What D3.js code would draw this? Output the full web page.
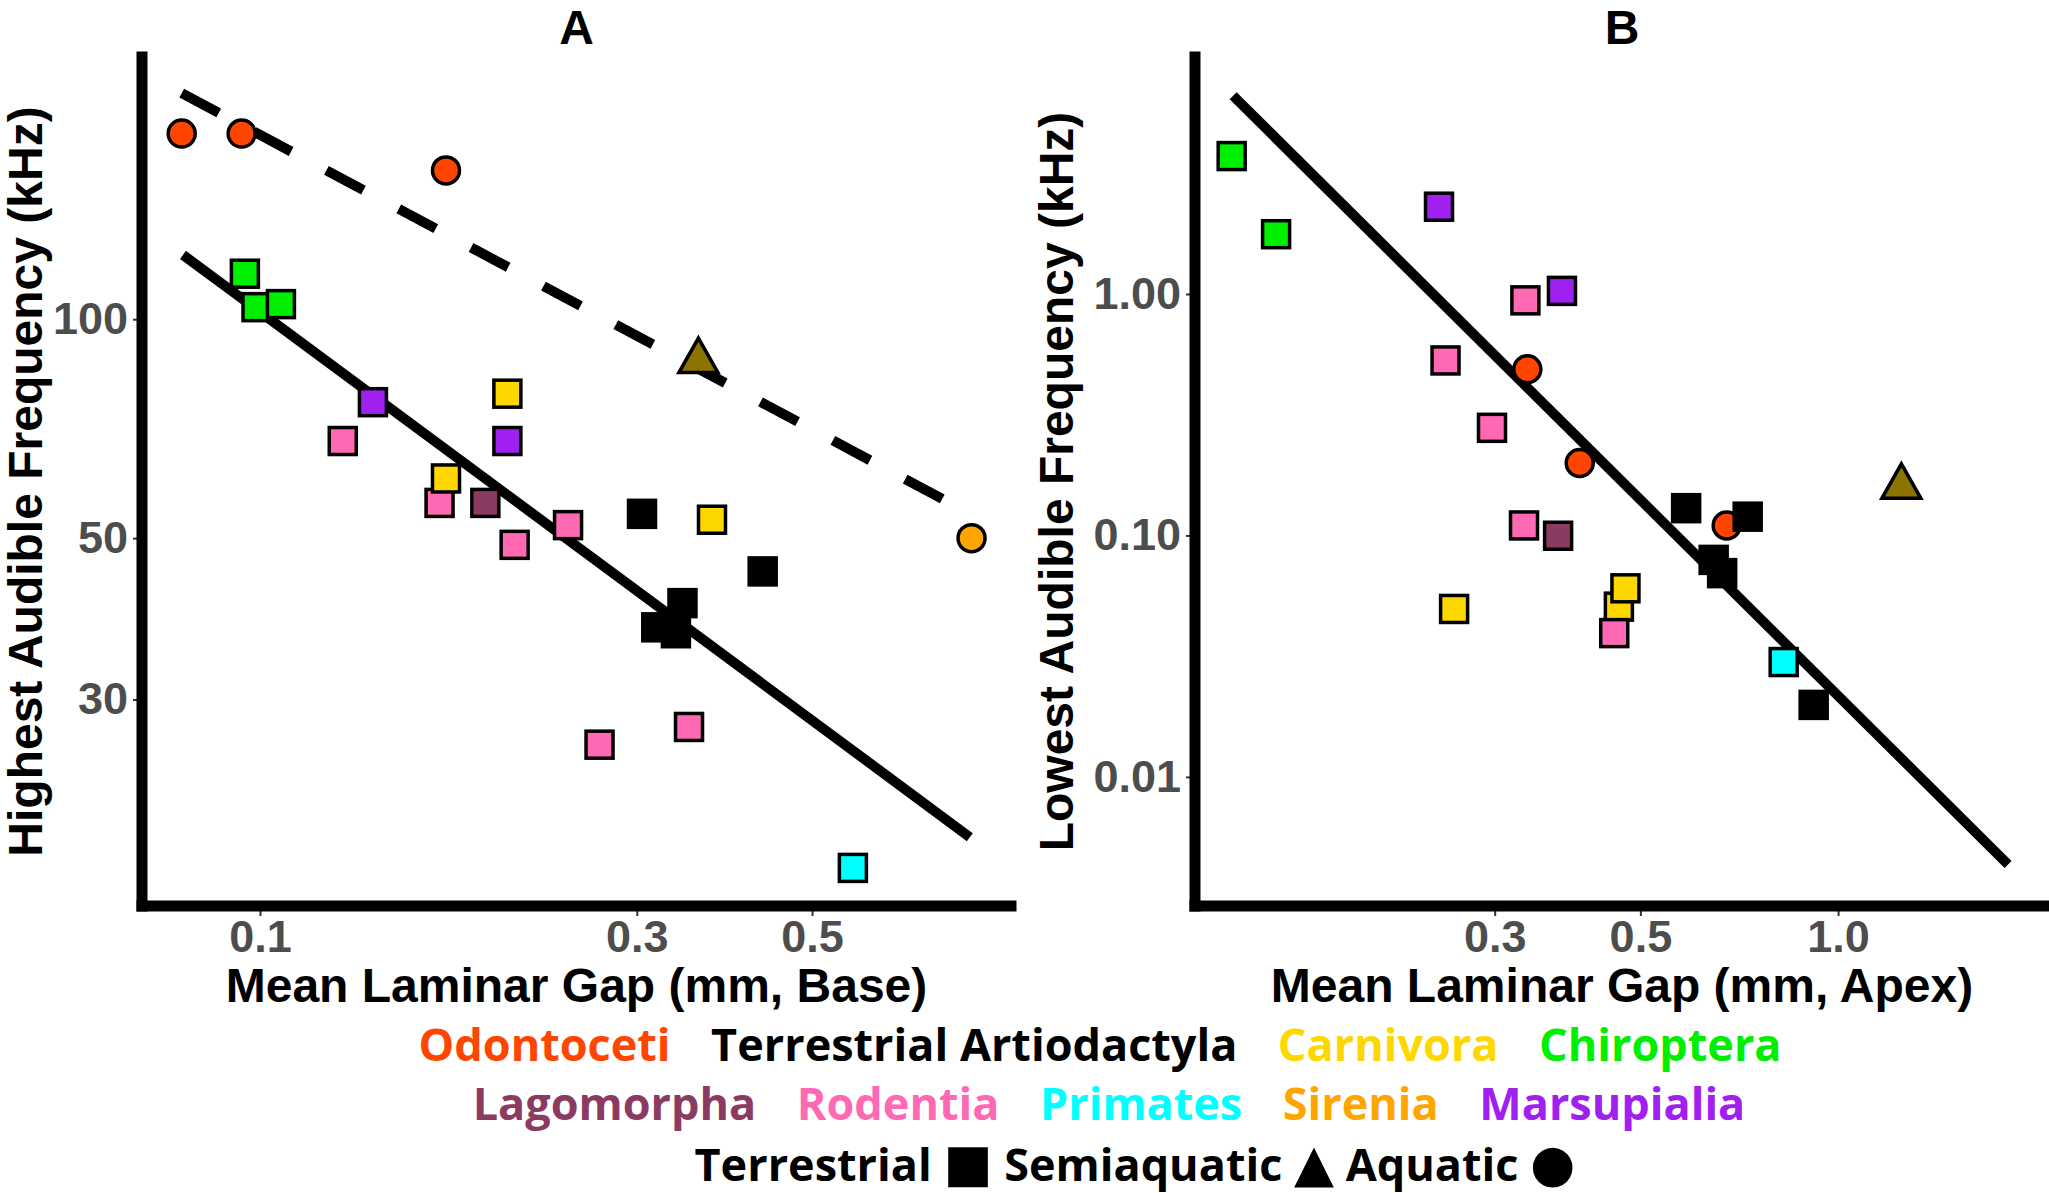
<!DOCTYPE html>
<meta charset="utf-8"/>
<style>
  body { margin: 0; background: #fff; }
</style>
<svg width="2049" height="1193"></svg>
<script src="https://d3js.org/d3.v7.min.js"></script>
<script>

// orders and their colours
var orders = ['Odontoceti', 'Terrestrial Artiodactyla', 'Carnivora', 'Chiroptera',
              'Lagomorpha', 'Rodentia', 'Primates', 'Sirenia', 'Marsupialia', 'Semiaquatic']
var orderColours = ['#FF4500', '#000000', '#FFD700', '#00EE00',
                    '#8B3A62', '#FF69B4', '#00FFFF', '#FFA500', '#A020F0', '#8B7500']
var legendRows = [
    ['Odontoceti', 'Terrestrial Artiodactyla', 'Carnivora', 'Chiroptera'],
    ['Lagomorpha', 'Rodentia', 'Primates', 'Sirenia', 'Marsupialia']
]
var habitatWords   = ['Terrestrial ', ' Semiaquatic ', ' Aquatic ']
var habitatSymbols = ['\u25A0', '\u25B2', '\u25CF']

// panel A : base gap (mm) vs highest audible frequency (kHz)
var orderA   = ['Odontoceti','Odontoceti','Odontoceti','Sirenia','Semiaquatic',
                'Chiroptera','Chiroptera','Chiroptera',
                'Marsupialia','Marsupialia',
                'Rodentia','Rodentia','Rodentia','Rodentia','Rodentia','Rodentia',
                'Carnivora','Carnivora','Carnivora','Lagomorpha',
                'Terrestrial Artiodactyla','Terrestrial Artiodactyla','Terrestrial Artiodactyla',
                'Terrestrial Artiodactyla','Terrestrial Artiodactyla','Primates']
var habitatA = ['aquatic','aquatic','aquatic','aquatic','semi',
                'terr','terr','terr','terr','terr','terr','terr','terr','terr','terr','terr',
                'terr','terr','terr','terr','terr','terr','terr','terr','terr','terr']
var gapA  = [0.0796, 0.0948, 0.172, 0.796, 0.359,
             0.0957, 0.099, 0.1063,
             0.139, 0.2057,
             0.1273, 0.1688, 0.2101, 0.2455, 0.2691, 0.3493,
             0.2057, 0.172, 0.3735, 0.1929,
             0.3046, 0.433, 0.3427, 0.3175, 0.3362, 0.5632]
var freqA = [180, 180, 160.2, 50.0, 87.6,
             115.5, 103.9, 104.9,
             76.9, 68.0,
             68.0, 55.9, 48.95, 52.1, 26.0, 27.5,
             79.0, 60.4, 53.0, 55.9,
             54.0, 45.0, 40.7, 37.7, 37.0, 17.6]
// fitted lines, end points [gap, freq]
var fitTerrA  = [[0.0799, 122.6], [0.792, 19.4]]
var fitAquaA  = [[0.0796, 204.6], [0.796, 53.9]]

// panel B : apex gap (mm) vs lowest audible frequency (kHz)
var orderB   = ['Chiroptera','Chiroptera','Marsupialia','Marsupialia',
                'Rodentia','Rodentia','Rodentia','Rodentia','Lagomorpha',
                'Odontoceti','Odontoceti','Odontoceti','Semiaquatic',
                'Terrestrial Artiodactyla','Terrestrial Artiodactyla','Terrestrial Artiodactyla',
                'Terrestrial Artiodactyla','Terrestrial Artiodactyla',
                'Carnivora','Carnivora','Carnivora','Rodentia','Primates']
var habitatB = ['terr','terr','terr','terr','terr','terr','terr','terr','terr',
                'aquatic','aquatic','aquatic','semi',
                'terr','terr','terr','terr','terr','terr','terr','terr','terr','terr']
var gapB  = [0.1193, 0.1394, 0.2468, 0.3798,
             0.3341, 0.2525, 0.2972, 0.3325, 0.3747,
             0.3364, 0.4042, 0.6767, 1.2485,
             0.587, 0.7284, 0.6465, 0.666, 0.918,
             0.2602, 0.4637, 0.4745, 0.4562, 0.8264]
var freqB = [3.724, 1.768, 2.298, 1.030,
             0.941, 0.5305, 0.279, 0.110, 0.0997,
             0.4878, 0.1995, 0.110, 0.159,
             0.1297, 0.1196, 0.0792, 0.0698, 0.01987,
             0.0496, 0.0507, 0.0604, 0.0394, 0.0299]
var fitB = [[0.1199, 6.62], [1.815, 0.00434]]

var ticksAx = [0.1, 0.3, 0.5],  ticksAxLab = ['0.1', '0.3', '0.5']
var ticksAy = [30, 50, 100],    ticksAyLab = ['30', '50', '100']
var ticksBx = [0.3, 0.5, 1.0],  ticksBxLab = ['0.3', '0.5', '1.0']
var ticksBy = [0.01, 0.1, 1.0], ticksByLab = ['0.01', '0.10', '1.00']

var colour = d3.scaleOrdinal().domain(orders).range(orderColours)

var svg = d3.select('svg')
var top_ = 57, bottom = 906
var arial = '"Liberation Sans", Arial, sans-serif'

function panel(opt)
{
    var g = svg.append('g')
    var x = d3.scaleLog().domain(opt.xdom).range([opt.left, opt.right])
    var y = d3.scaleLog().domain(opt.ydom).range([bottom, top_])

    // ticks and labels
    var xa = g.append('g').attr('transform', 'translate(0,' + bottom + ')')
        .call(d3.axisBottom(x).tickValues(opt.xt).tickSize(10).tickPadding(10)
              .tickFormat(function(d, i) { return opt.xtl[i] }))
    var ya = g.append('g').attr('transform', 'translate(' + opt.left + ',0)')
        .call(d3.axisLeft(y).tickValues(opt.yt).tickSize(9).tickPadding(5)
              .tickFormat(function(d, i) { return opt.ytl[i] }))
    g.selectAll('.domain').remove()
    g.selectAll('.tick line').attr('stroke', '#333').attr('stroke-width', 2)
    g.selectAll('.tick text')
        .style('font-family', arial)
        .style('font-weight', 'bold')
        .style('font-size', '45px')
        .attr('fill', '#4D4D4D')
    xa.selectAll('.tick text').attr('dy', '0.72em').attr('y', 14)

    // axis lines
    g.append('line').attr('x1', opt.left).attr('x2', opt.left)
        .attr('y1', top_).attr('y2', bottom)
        .attr('stroke', '#000').attr('stroke-width', 11).attr('stroke-linecap', 'square')
    g.append('line').attr('x1', opt.left).attr('x2', opt.right)
        .attr('y1', bottom).attr('y2', bottom)
        .attr('stroke', '#000').attr('stroke-width', 11).attr('stroke-linecap', 'square')

    // fitted lines
    opt.fits.forEach(function(f) {
        g.append('line')
            .attr('x1', x(f.pts[0][0])).attr('y1', y(f.pts[0][1]))
            .attr('x2', x(f.pts[1][0])).attr('y2', y(f.pts[1][1]))
            .attr('stroke', '#000').attr('stroke-width', 10)
            .attr('stroke-dasharray', f.dash ? '42,40' : null)
    })

    // points
    var pts = opt.gap.map(function(v, i) {
        return { x: v, y: opt.freq[i], order: opt.order[i], hab: opt.hab[i] }
    })
    var sym = g.selectAll('g.pt').data(pts).enter().append('g')
        .attr('class', 'pt')
        .attr('transform', function(d) { return 'translate(' + x(d.x) + ',' + y(d.y) + ')' })
    sym.each(function(d) {
        var s = d3.select(this)
        if (d.hab == 'terr')
            s.append('rect').attr('x', -13.5).attr('y', -13.5).attr('width', 27).attr('height', 27)
        else if (d.hab == 'aquatic')
            s.append('circle').attr('r', 13.5)
        else
            s.append('path').attr('d', 'M0,-23 L19.5,11.5 L-19.5,11.5 Z')
    })
    sym.selectAll('*')
        .attr('fill', function() { return colour(d3.select(this.parentNode).datum().order) })
        .attr('stroke', '#000').attr('stroke-width', 3.5)

    // titles
    g.append('text').attr('x', (opt.left + opt.right) / 2).attr('y', 44)
        .attr('text-anchor', 'middle')
        .style('font-family', arial)
        .style('font-weight', 'bold').style('font-size', '48px')
        .text(opt.title)
    g.append('text').attr('x', (opt.left + opt.right) / 2).attr('y', 1002)
        .attr('text-anchor', 'middle')
        .style('font-family', arial)
        .style('font-weight', 'bold').style('font-size', '48px')
        .text(opt.xlab)
    g.append('text')
        .attr('transform', 'translate(' + opt.ylabX + ',' + (top_ + bottom) / 2 + ') rotate(-90)')
        .attr('text-anchor', 'middle')
        .style('font-family', arial)
        .style('font-weight', 'bold').style('font-size', '48px')
        .text(opt.ylab)
}

panel({ left: 142, right: 1011, xdom: [0.0709, 0.893], ydom: [15.6, 229.4],
        xt: ticksAx, xtl: ticksAxLab, yt: ticksAy, ytl: ticksAyLab,
        gap: gapA, freq: freqA, order: orderA, hab: habitatA,
        fits: [{ pts: fitAquaA, dash: true }, { pts: fitTerrA, dash: false }],
        title: 'A', xlab: 'Mean Laminar Gap (mm, Base)',
        ylab: 'Highest Audible Frequency (kHz)', ylabX: 42 })

panel({ left: 1195, right: 2049, xdom: [0.1049, 2.095], ydom: [0.00292, 9.58],
        xt: ticksBx, xtl: ticksBxLab, yt: ticksBy, ytl: ticksByLab,
        gap: gapB, freq: freqB, order: orderB, hab: habitatB,
        fits: [{ pts: fitB, dash: false }],
        title: 'B', xlab: 'Mean Laminar Gap (mm, Apex)',
        ylab: 'Lowest Audible Frequency (kHz)', ylabX: 1073 })

// legend
var legFont = '"Open Sans", "Noto Sans", sans-serif'
var rowCentres = [1100, 1109], rowBase = [1061, 1120]
legendRows.forEach(function(row, r) {
    var lg = svg.append('g')
    var texts = row.map(function(name) {
        return lg.append('text')
            .attr('y', rowBase[r])
            .style('font-family', legFont).style('font-weight', 'bold').style('font-size', '45px')
            .attr('fill', colour(name))
            .text(name)
    })
    var widths = texts.map(function(t) { return t.node().getComputedTextLength() })
    var total = d3.sum(widths) + 40.5 * (row.length - 1)
    var xpos = rowCentres[r] - total / 2
    texts.forEach(function(t, i) { t.attr('x', xpos); xpos += widths[i] + 40.5 })
})
var hab = svg.append('text').attr('x', 1135).attr('y', 1181).attr('text-anchor', 'middle')
    .style('font-family', legFont).style('font-weight', 'bold').style('font-size', '45px')
habitatWords.forEach(function(w, i) {
    hab.append('tspan').text(w)
    hab.append('tspan').style('font-family', '"DejaVu Sans", sans-serif')
        .style('font-size', '52px').text(habitatSymbols[i])
})

</script>
